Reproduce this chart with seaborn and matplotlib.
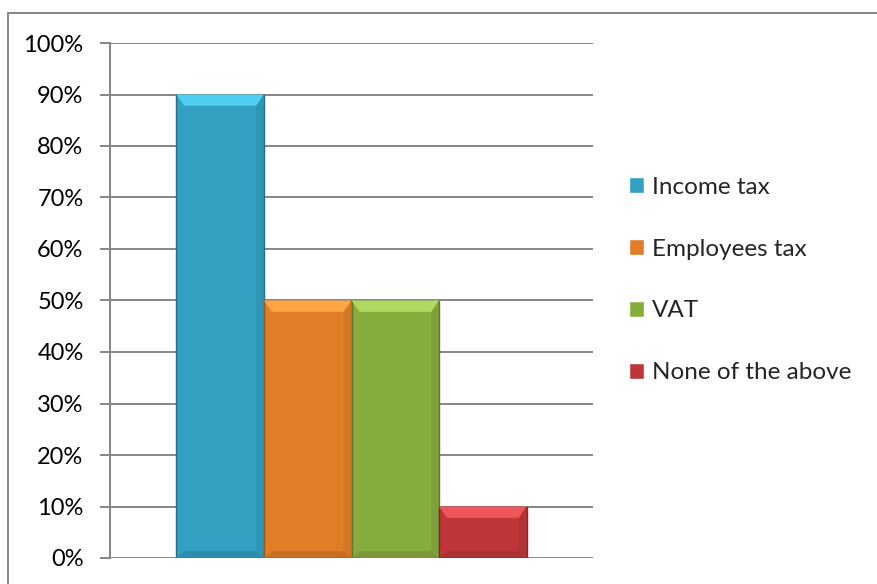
import matplotlib
matplotlib.use("Agg")
import matplotlib.pyplot as plt
from matplotlib.ticker import PercentFormatter, MultipleLocator
from matplotlib.patches import Polygon, Rectangle
import matplotlib.colors as mcolors
import pandas as pd
import seaborn as sns

# datos
series = ["Income tax", "Employees tax", "VAT", "None of the above"]
valores = [0.90, 0.50, 0.50, 0.10]
colores = ["#31A0C1", "#E07D26", "#86AC3E", "#BE3638"]

df = pd.DataFrame({"grupo": [""] * len(series), "serie": series, "valor": valores})

sns.set_theme(style="white")
plt.rcParams["font.family"] = ["Lato", "DejaVu Sans"]

fig = plt.figure(figsize=(8.77, 5.84), dpi=100)
ax = fig.add_axes([110 / 877, 1 - 558 / 584, (593 - 110) / 877, (558 - 43) / 584])

sns.barplot(data=df, x="grupo", y="valor", hue="serie", hue_order=series,
            palette=colores, saturation=1, width=0.725, ax=ax, legend=True)

# efecto biselado simple sobre cada barra
for patch, c in zip(ax.patches, colores):
    x, y = patch.get_x(), patch.get_y()
    w, h = patch.get_width(), patch.get_height()
    base = mcolors.to_rgb(c)
    oscuro = [v * 0.7 for v in base]
    claro = [min(1, v * 1.12 + 0.1) for v in base]
    patch.set_edgecolor(oscuro)
    patch.set_linewidth(1.0)
    bx = w * 0.09
    by = 0.022
    ax.add_patch(Polygon([(x, y + h), (x + w, y + h), (x + w - bx, y + h - by), (x + bx, y + h - by)],
                         closed=True, facecolor=claro, edgecolor="none", zorder=3))
    ax.add_patch(Polygon([(x + w, y), (x + w, y + h), (x + w - bx, y + h - by), (x + w - bx, y + by * 0.6)],
                         closed=True, facecolor=oscuro, alpha=0.18, edgecolor="none", zorder=3))
    ax.add_patch(Polygon([(x, y), (x + w, y), (x + w - bx, y + by * 0.6), (x + bx, y + by * 0.6)],
                         closed=True, facecolor=oscuro, alpha=0.35, edgecolor="none", zorder=3))

ax.set_xlim(-0.5, 0.5)
ax.set_ylim(0, 1.0)
ax.yaxis.set_major_locator(MultipleLocator(0.1))
ax.yaxis.set_major_formatter(PercentFormatter(1.0, decimals=0))
ax.set_xlabel("")
ax.set_ylabel("")
ax.set_xticks([])

ax.grid(axis="y", color="#868686", linewidth=1.4)
ax.set_axisbelow(True)
for s in ["top", "right", "bottom"]:
    ax.spines[s].set_visible(False)
ax.spines["left"].set_color("#868686")
ax.spines["left"].set_linewidth(1.4)
ax.tick_params(axis="y", left=True, length=7, width=1.4, color="#868686",
               pad=12, labelsize=17, labelcolor="black")

handles, labels = ax.get_legend_handles_labels()
ax.get_legend().remove()
fig.legend(handles, labels, loc="center left", bbox_to_anchor=(629 / 877, 1 - 280 / 584),
           frameon=False, fontsize=17.5, labelspacing=1.68, handlelength=0.63,
           handleheight=0.63, handletextpad=0.3, borderpad=0, borderaxespad=0)

# borde exterior del grafico
fig.patches.append(Rectangle((8 / 877, -0.1), 1.1, 1 - 13 / 584 + 0.1, transform=fig.transFigure,
                             fill=False, edgecolor="#868686", linewidth=1.4))

fig.savefig("out.png", dpi=100)
